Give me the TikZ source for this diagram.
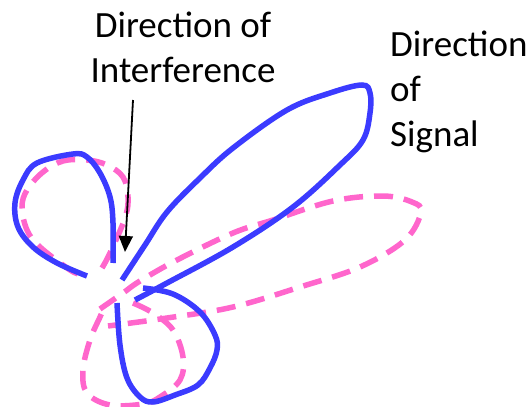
\documentclass[tikz,border=0pt]{standalone}
\usepackage{fontspec}
\setmainfont{Carlito}
\usetikzlibrary{arrows.meta}
\definecolor{lobeblue}{RGB}{59,59,255}
\definecolor{lobepink}{RGB}{255,102,204}
\tikzset{
  bluelobe/.style={draw=lobeblue, line width=5.5pt},
  pinklobe/.style={draw=lobepink, line width=5.5pt, dash pattern=on 19pt off 11pt},
  caption/.style={font=\fontsize{37}{45}\selectfont, inner sep=0pt, anchor=base}
}
\begin{document}
\begin{tikzpicture}[x=1pt, y=-1pt]
    \useasboundingbox (0, 0) rectangle (531, 407);
    % pattern with interference
    \draw[pinklobe] plot[smooth, tension=0.6] coordinates {(102,268) (110,253) (125,218) (128,197) (123,177) (107,165) (87,160) (63,161) (43,172) (27,190) (22,207) (27,230) (40,247) (70,270) (80,274)};
    \draw[pinklobe] plot[smooth, tension=0.6] coordinates {(100,309) (123,293) (140,281) (177,260) (233,233) (273,220) (333,201) (383,196) (412,202) (421,212) (405,240) (360,267) (300,287) (233,307) (167,318) (108,326)};
    \draw[pinklobe] plot[smooth, tension=0.6] coordinates {(133,303) (153,313) (173,330) (183,357) (180,380) (160,397) (143,404) (110,405) (87,393) (83,370) (90,340) (100,317) (103,310)};
    % pattern with signal
    \draw[bluelobe] plot[smooth, tension=0.6] coordinates {(113,263) (113,223) (110,197) (100,173) (87,157) (73,154) (37,163) (23,180) (15,203) (18,227) (33,247) (57,263) (87,276)};
    \draw[bluelobe] plot[smooth, tension=0.6] coordinates {(122,280) (145,245) (167,212) (200,178) (233,148) (287,110) (330,93) (362,85) (370,93) (370,113) (363,140) (340,165) (293,207) (233,247) (167,283) (135,300)};
    \draw[bluelobe] plot[smooth, tension=0.6] coordinates {(143,288) (173,294) (200,312) (215,335) (217,350) (210,368) (198,385) (175,395) (153,402) (140,397) (127,378) (120,345) (117,303)};
    % labels
    \node[caption, align=center] (interference) at (183, 82) {Direction of\\Interference};
    \node[caption, align=left, anchor=base west] (signal) at (390, 146) {Direction\\of\\Signal};
    \coordinate (arrowstart) at (133, 100);
    \coordinate (arrowtip) at (125, 252);
    \draw[line width=1.8pt, -{Triangle[width=14pt, length=16pt]}] (arrowstart) -- (arrowtip);
\end{tikzpicture}
\end{document}
